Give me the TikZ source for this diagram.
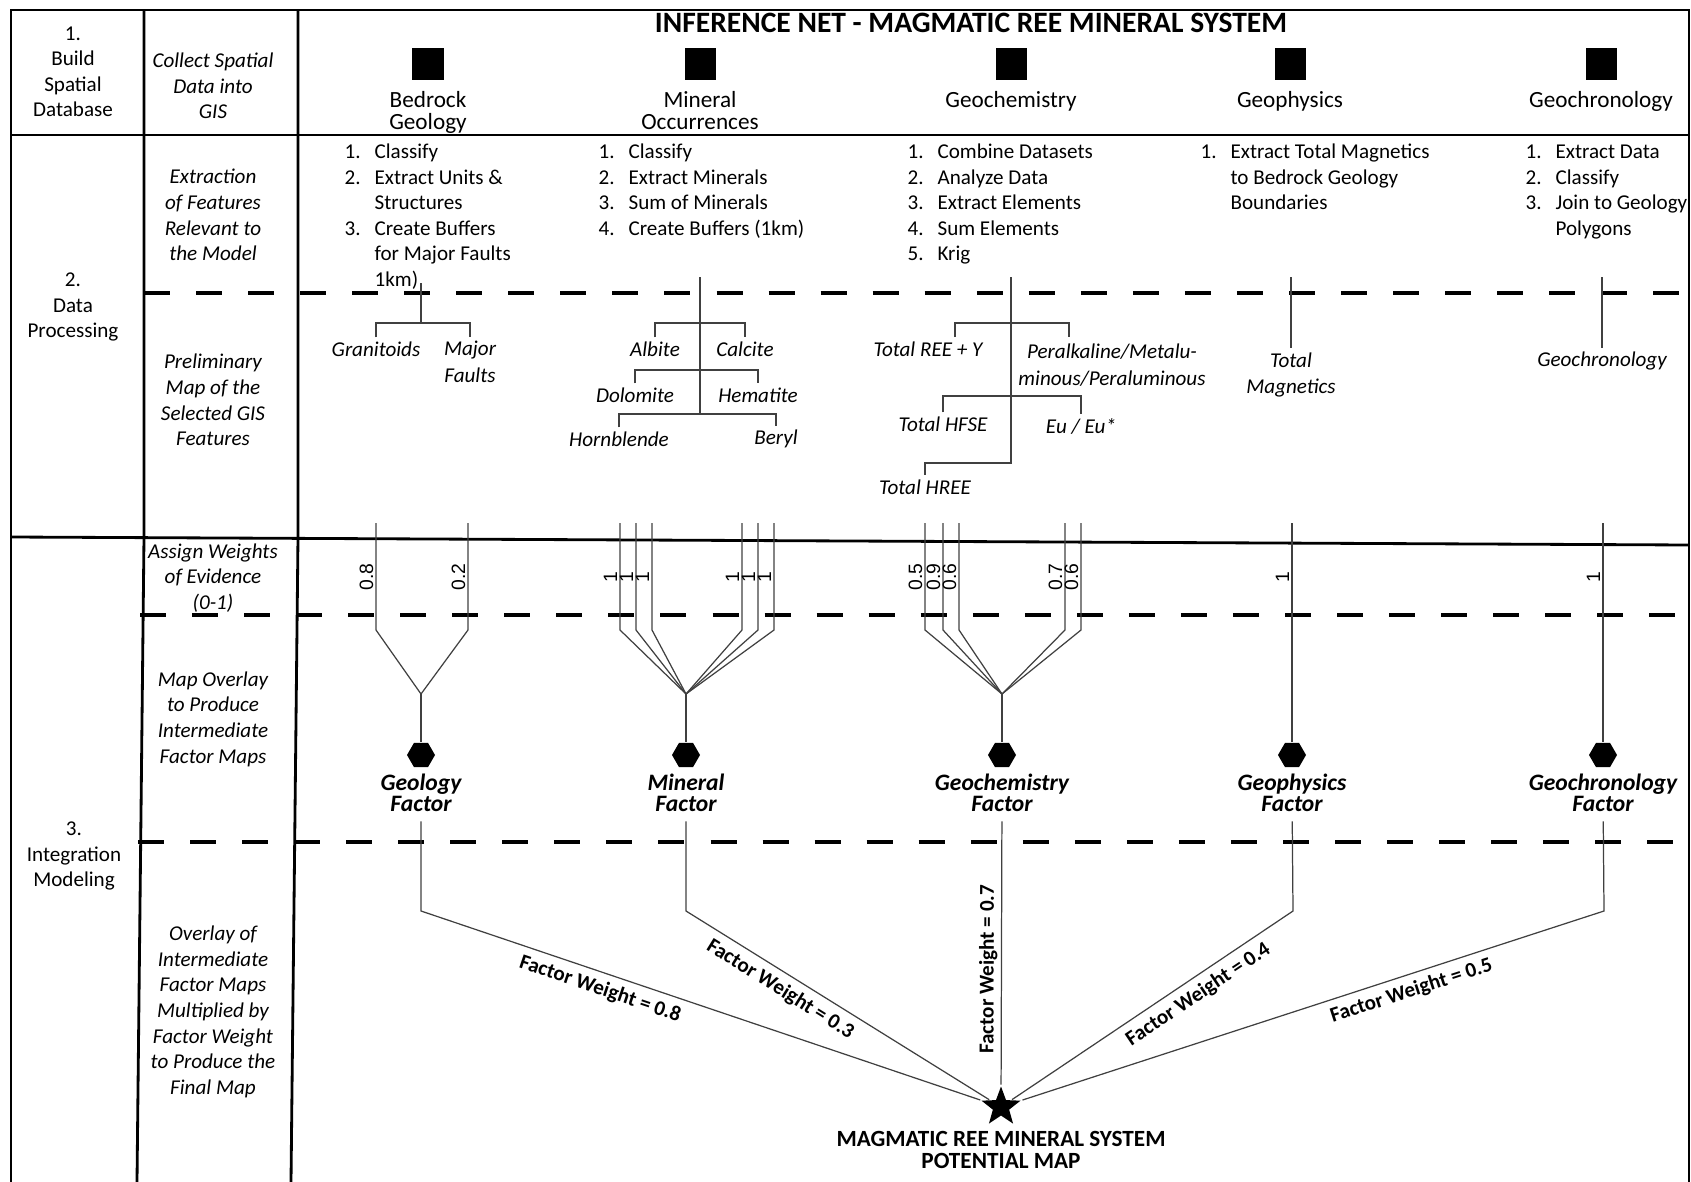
\documentclass[tikz,border=0pt]{standalone}
\usepackage{fontspec}
\setmainfont{Carlito}
\newfontfamily\weightfont{Liberation Sans}
\usetikzlibrary{shapes.geometric,positioning}

\tikzset{
  frame/.style={line width=0.8pt},
  rowdash/.style={line width=0.95pt, dash pattern=on 7.4pt off 7.4pt},
  link/.style={line width=0.35pt, black!75},
  box/.style={fill=black, minimum size=0.31cm, inner sep=0pt},
  hexa/.style={regular polygon, regular polygon sides=6, fill=black, minimum size=0.28cm, inner sep=0pt},
  stage/.style={align=center, font=\fontsize{6}{7.25}\selectfont, inner sep=1pt},
  task/.style={align=center, font=\fontsize{6}{7.3}\selectfont\itshape, inner sep=1pt},
  datatype/.style={align=center, font=\fontsize{6.6}{6.3}\selectfont, inner sep=1pt},
  steps/.style={font=\fontsize{6}{7.25}\selectfont, inner sep=0pt, anchor=base west},
  feature/.style={align=center, font=\fontsize{6}{7.5}\selectfont\itshape, inner sep=1pt},
  weight/.style={rotate=90, anchor=south, font=\weightfont\fontsize{5.5}{6}\selectfont, inner sep=0.6pt},
  factor/.style={align=center, font=\fontsize{6.7}{6.1}\selectfont\bfseries\itshape, inner sep=1pt},
  fweight/.style={sloped, text=black, font=\fontsize{6}{7}\selectfont\bfseries, inner sep=1pt},
}

\begin{document}
\begin{tikzpicture}[x=0.01cm, y=-0.01cm]
\useasboundingbox (0,0) rectangle (1691,1182);

% table frame
\draw[frame] (11,1182) -- (11,10) -- (1689,10) -- (1689,1182);
\draw[frame] (144,10) -- (144,537) -- (137,1182);
\draw[frame] (298,10) -- (298,537) -- (291,1182);
\draw[frame] (11,135) -- (1689,135);
\draw[frame] (11,537) -- (1689,545);
\draw[rowdash] (144,293) -- (1689,293);
\draw[rowdash] (140,615) -- (1689,615);
\draw[rowdash] (138,842) -- (1689,842);

% row 1
\node[stage] (buildDb) at (73,72) {1.\\Build\\Spatial\\Database};
\node[task] (collect) at (213,86) {Collect Spatial\\Data into\\GIS};
\node[font=\fontsize{8.4}{9}\selectfont\bfseries, inner sep=0pt] (title) at (971,23) {INFERENCE NET - MAGMATIC REE MINERAL SYSTEM};
\foreach \n/\x in {geo/428, min/700, chem/1011, phys/1290, chron/1601}
  \node[box] (sq\n) at (\x,64) {};
\node[datatype, below=2pt of sqgeo] (datGeo) {Bedrock\\Geology};
\node[datatype, below=2pt of sqmin] (datMin) {Mineral\\Occurrences};
\node[datatype, below=2pt of sqchem] (datChem) {Geochemistry};
\node[datatype, below=2pt of sqphys] (datPhys) {Geophysics};
\node[datatype, below=2pt of sqchron] (datChron) {Geochronology};

% row 2
\node[stage] (dataProc) at (73,307) {2.\\Data\\Processing};
\node[task] (extract) at (213,215) {Extraction\\of Features\\Relevant to\\the Model};
\node[task] (prelim) at (213,400) {Preliminary\\Map of the\\Selected GIS\\Features};

\node[steps] (stepsGeo) at (344,159) {\begin{tabular}[t]{@{}p{8.5pt}@{}l@{}}
  1. & Classify\\ 2. & Extract Units \&\\ & Structures\\ 3. & Create Buffers\\ & for Major Faults\\ & 1km)\end{tabular}};
\node[steps] (stepsMin) at (598,159) {\begin{tabular}[t]{@{}p{8.5pt}@{}l@{}}
  1. & Classify\\ 2. & Extract Minerals\\ 3. & Sum of Minerals\\ 4. & Create Buffers (1km)\end{tabular}};
\node[steps] (stepsChem) at (907,159) {\begin{tabular}[t]{@{}p{8.5pt}@{}l@{}}
  1. & Combine Datasets\\ 2. & Analyze Data\\ 3. & Extract Elements\\ 4. & Sum Elements\\ 5. & Krig\end{tabular}};
\node[steps] (stepsPhys) at (1200,159) {\begin{tabular}[t]{@{}p{8.5pt}@{}l@{}}
  1. & Extract Total Magnetics\\ & to Bedrock Geology\\ & Boundaries\end{tabular}};
\node[steps] (stepsChron) at (1525,159) {\begin{tabular}[t]{@{}p{8.5pt}@{}l@{}}
  1. & Extract Data\\ 2. & Classify\\ 3. & Join to Geology\\ & Polygons\end{tabular}};

% selected features
\node[feature] (gran) at (376,349) {Granitoids};
\node[feature] (faults) at (470,362) {Major\\Faults};
\node[feature] (albite) at (655,349) {Albite};
\node[feature] (calcite) at (745,349) {Calcite};
\node[feature] (dolomite) at (635,395) {Dolomite};
\node[feature] (hematite) at (758,395) {Hematite};
\node[feature] (hornbl) at (619,439) {Hornblende};
\node[feature] (beryl) at (776,439) {Beryl};
\node[feature] (ree) at (928,349) {Total REE + Y};
\node[feature] (peralk) at (1112,365) {Peralkaline/Metalu-\\minous/Peraluminous};
\node[feature] (hfse) at (943,424) {Total HFSE};
\node[feature] (eu) at (1081,426) {Eu / Eu*};
\node[feature] (hree) at (925,487) {Total HREE};
\node[feature] (mag) at (1291,375) {Total\\Magnetics};
\node[feature] (chronLab) at (1602,361) {Geochronology};

\coordinate (geoTop) at (421,283);
\coordinate (geoJ) at (421,323);
\draw[link] (geoTop) -- (geoJ);
\draw[link] (gran.north) |- (geoJ) -| (faults.north);

\coordinate (minTop) at (700,277);
\coordinate (minJ1) at (700,323);
\coordinate (minJ2) at (700,370);
\coordinate (minJ3) at (700,414);
\draw[link] (minTop) -- (minJ3);
\draw[link] (albite.north) |- (minJ1) -| (calcite.north);
\draw[link] (dolomite.north) |- (minJ2) -| (hematite.north);
\draw[link] (hornbl.north) |- (minJ3) -| (beryl.north);

\coordinate (chemTop) at (1011,277);
\coordinate (chemJ1) at (1011,323);
\coordinate (chemJ2) at (1011,396);
\coordinate (chemJ3) at (1011,463);
\coordinate (reeIn) at (955,337);
\coordinate (peralkIn) at (1069,337);
\draw[link] (chemTop) -- (chemJ3) -| (hree.north);
\draw[link] (reeIn) |- (chemJ1) -| (peralkIn);
\draw[link] (hfse.north) |- (chemJ2) -| (eu.north);

\coordinate (physTop) at (1291,277);
\draw[link] (physTop) -- (mag.north);
\coordinate (chronTop) at (1602,277);
\draw[link] (chronTop) -- (chronLab.north);

% row 3
\node[task] (assign) at (213,578) {Assign Weights\\of Evidence\\(0-1)};
\node[task] (overlayA) at (213,719) {Map Overlay\\to Produce\\Intermediate\\Factor Maps};
\node[stage] (integ) at (74,856) {3.\\Integration\\Modeling};
\node[task] (overlayB) at (213,1012) {Overlay of\\Intermediate\\Factor Maps\\Multiplied by\\Factor Weight\\to Produce the\\Final Map};

\coordinate (geoM) at (421,694);
\coordinate (minM) at (686,694);
\coordinate (chemM) at (1002,694);
\node[hexa] (geoHex) at (421,755) {};
\node[hexa] (minHex) at (686,755) {};
\node[hexa] (chemHex) at (1002,755) {};
\node[hexa] (physHex) at (1292,755) {};
\node[hexa] (chronHex) at (1603,755) {};

\foreach \x/\w [count=\i] in {376/0.8, 468/0.2} {
  \coordinate (gw\i) at (\x,523);
  \draw[link] (gw\i) -- ++(0,107) -- (geoM);
  \node[weight] (gwl\i) at (\x,577) {\w};
}
\foreach \x [count=\i] in {620, 636, 652, 742, 758, 774} {
  \coordinate (mw\i) at (\x,523);
  \draw[link] (mw\i) -- ++(0,107) -- (minM);
  \node[weight] (mwl\i) at (\x,577) {1};
}
\foreach \x/\w [count=\i] in {925/0.5, 943/0.9, 959/0.6, 1065/0.7, 1081/0.6} {
  \coordinate (cw\i) at (\x,523);
  \draw[link] (cw\i) -- ++(0,107) -- (chemM);
  \node[weight] (cwl\i) at (\x,577) {\w};
}
\coordinate (pw1) at (1292,523);
\node[weight] (pwl1) at (1292,577) {1};
\coordinate (tw1) at (1603,523);
\node[weight] (twl1) at (1603,577) {1};

\draw[link] (geoM) -- (geoHex);
\draw[link] (minM) -- (minHex);
\draw[link] (chemM) -- (chemHex);
\draw[link] (pw1) -- (physHex);
\draw[link] (tw1) -- (chronHex);

\node[factor, below=0.5pt of geoHex] (geoF) {Geology\\Factor};
\node[factor, below=0.5pt of minHex] (minF) {Mineral\\Factor};
\node[factor, below=0.5pt of chemHex] (chemF) {Geochemistry\\Factor};
\node[factor, below=0.5pt of physHex] (physF) {Geophysics\\Factor};
\node[factor, below=0.5pt of chronHex] (chronF) {Geochronology\\Factor};

% final map
\node[star, star points=5, star point ratio=2.4, fill=black, minimum size=0.41cm, inner sep=0pt] (final) at (1001,1107) {};
\node[align=center, font=\fontsize{6.6}{6.3}\selectfont\bfseries, inner sep=1pt, below=3pt of final] (finalLab) {MAGMATIC REE MINERAL SYSTEM\\POTENTIAL MAP};

\coordinate (geoB) at (421,911);
\coordinate (minB) at (686,911);
\coordinate (physB) at (1293,911);
\coordinate (chronB) at (1604,911);
\draw[link, shorten <=1.5pt] (geoF) -- (geoB) -- (final) node[fweight, below=1pt, pos=0.33] (fwGeo) {Factor Weight = 0.8};
\draw[link, shorten <=1.5pt] (minF) -- (minB) -- (final) node[fweight, below=1pt, pos=0.34] (fwMin) {Factor Weight = 0.3};
\draw[link, shorten >=1.5pt] (final) -- (chemF) node[fweight, above=0pt, pos=0.43] (fwChem) {Factor Weight = 0.7};
\draw[link, shorten <=1.5pt] (physF) -- (physB) -- (final) node[fweight, below=1pt, pos=0.37] (fwPhys) {Factor Weight = 0.4};
\draw[link, shorten <=1.5pt] (chronF) -- (chronB) -- (final) node[fweight, below=1pt, pos=0.34] (fwChron) {Factor Weight = 0.5};
\end{tikzpicture}
\end{document}
